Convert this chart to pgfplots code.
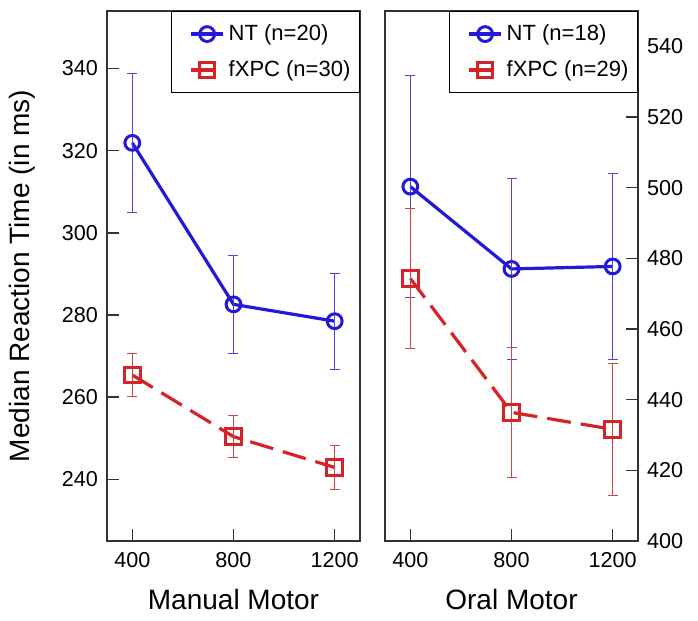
\documentclass[border=0pt]{standalone}
\usepackage{pgfplots}
\pgfplotsset{compat=1.18}
\usepackage{fontspec}
\setmainfont{Liberation Sans}
\definecolor{ntblue}{RGB}{35,25,215}
\definecolor{xpcred}{RGB}{215,35,40}
\definecolor{ntbar}{RGB}{80,70,220}
\definecolor{xpcbar}{RGB}{205,70,70}
\pgfplotsset{
  panel/.style={
    scale only axis, width=126.5pt, height=265pt,
    xmin=300, xmax=1300,
    xtick={400,800,1200},
    /pgf/number format/1000 sep={},
    /pgf/number format/assume math mode=true,
    tick align=inside, major tick length=6pt,
    xtick pos=bottom,
    axis line style={line width=0.7pt, black!80},
    tick style={line width=0.7pt, black!80},
    ticklabel style={font=\fontsize{10.8}{12}\selectfont},
    label style={font=\fontsize{14}{16}\selectfont},
    xticklabel style={anchor=north, yshift=-2pt},
    xlabel style={at={(axis description cs:0.5,-0.1113)}, anchor=center},
    legend cell align=left,
    legend style={at={(1,1)}, anchor=north east, draw=black, line width=0.6pt,
      font=\fontsize{11}{13}\selectfont, inner xsep=2.5pt, inner ysep=4.5pt,
      row sep=4.5pt, fill=white},
    legend image code/.code={\path (-6.5pt,0pt); \draw[mark repeat=2,mark phase=2,##1] plot coordinates {(0pt,0pt) (8pt,0pt) (16pt,0pt)};},
  },
  ntstyle/.style={color=ntblue, line width=1.6pt, mark=o, mark size=3.7pt,
    mark options={solid, fill=white, line width=1.5pt},
    error bars/.cd, y dir=both, y explicit,
    error bar style={line width=0.5pt, color=ntbar, solid},
    error mark options={rotate=90, mark size=2.5pt, line width=0.5pt, color=ntbar}},
  xpcstyle/.style={color=xpcred, line width=1.6pt, dash pattern=on 12pt off 5pt,
    mark=square, mark size=3.9pt,
    mark options={solid, fill=white, line width=1.5pt},
    error bars/.cd, y dir=both, y explicit,
    error bar style={line width=0.5pt, color=xpcbar, solid},
    error mark options={rotate=90, mark size=2.5pt, line width=0.5pt, color=xpcbar}},
}
\begin{document}
\begin{tikzpicture}
\useasboundingbox (0,0) rectangle (349pt,310.5pt);
\begin{axis}[panel, at={(53.5pt,40pt)}, anchor=south west,
  ymin=225, ymax=354, ytick={240,260,280,300,320,340},
  ytick pos=left,
  yticklabel style={xshift=-1pt},
  xlabel={Manual Motor},
  ylabel={Median Reaction Time (in ms)},
  ylabel style={at={(axis description cs:-0.336,0.5)}, anchor=center, rotate=0},
]
\addplot[ntstyle] coordinates {
  (400,321.9) +- (0,16.9)
  (800,282.6) +- (0,12.0)
  (1200,278.5) +- (0,11.7)
};
\addlegendentry{NT (n=20)}
\addplot[xpcstyle] coordinates {
  (400,265.4) +- (0,5.3)
  (800,250.4) +- (0,5.1)
  (1200,242.9) +- (0,5.3)
};
\addlegendentry{fXPC (n=30)}
\end{axis}
\begin{axis}[panel, at={(192.5pt,40pt)}, anchor=south west,
  ymin=400, ymax=550, ytick={400,420,440,460,480,500,520,540},
  ytick pos=right, yticklabel pos=right,
  yticklabel style={xshift=1pt},
  xlabel={Oral Motor},
]
\addplot[ntstyle] coordinates {
  (400,500.3) +- (0,31.5)
  (800,477.0) +- (0,25.5)
  (1200,477.7) +- (0,26.4)
};
\addlegendentry{NT (n=18)}
\addplot[xpcstyle] coordinates {
  (400,474.3) +- (0,19.8)
  (800,436.4) +- (0,18.5)
  (1200,431.6) +- (0,18.6)
};
\addlegendentry{fXPC (n=29)}
\end{axis}
\end{tikzpicture}
\end{document}
